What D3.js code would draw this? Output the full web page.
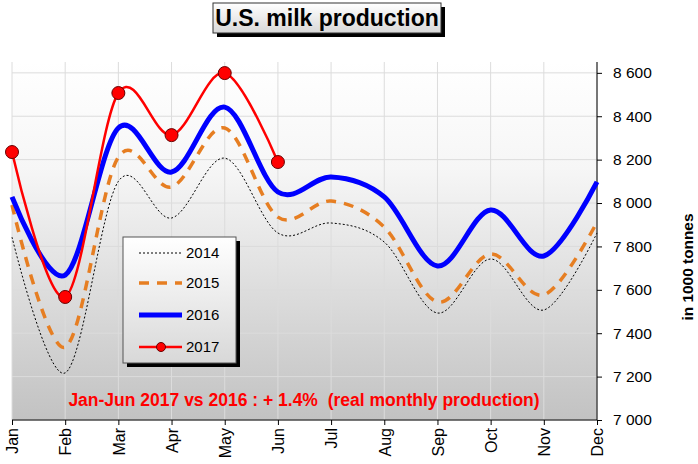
<!DOCTYPE html>
<html><head><meta charset="utf-8">
<script src="https://cdn.jsdelivr.net/npm/d3@7"></script>
<style>body{margin:0;background:#fff;font-family:Arial,"Liberation Sans",sans-serif}</style>
</head><body><svg id="c" width="698" height="464"></svg>
<script>
const months = ["Jan","Feb","Mar","Apr","May","Jun","Jul","Aug","Sep","Oct","Nov","Dec"];
const v2014 = [7843,7217,8100,7931,8207,7862,7908,7820,7493,7742,7507,7862];
const v2015 = [7991,7336,8212,8074,8346,7935,8009,7889,7544,7765,7576,7912];
const v2016 = [8028,7668,8346,8143,8442,8051,8120,8028,7710,7968,7756,8097];
const v2017 = [8235,7567,8507,8313,8599,8189];
const yTicks = [7000,7200,7400,7600,7800,8000,8200,8400,8600];
const seriesNames = ["2014","2015","2016","2017"];

const FONT = "Arial, 'Liberation Sans', sans-serif";
const svg = d3.select("#c").attr("font-family", FONT);
const L = 12, R = 597, T = 62, B = 420;
const x = d3.scalePoint().domain(months).range([L, R]);
const y = d3.scaleLinear().domain([7000, 8650]).range([B, T]);
const defs = svg.append("defs");
const bg = defs.append("linearGradient").attr("id","bg").attr("x1",0).attr("y1",0).attr("x2",0).attr("y2",1);
bg.append("stop").attr("offset","0%").attr("stop-color","#ffffff");
bg.append("stop").attr("offset","30%").attr("stop-color","#f6f6f6");
bg.append("stop").attr("offset","100%").attr("stop-color","#c2c2c2");
const tg = defs.append("linearGradient").attr("id","tg").attr("x1",0).attr("y1",0).attr("x2",0).attr("y2",1);
tg.append("stop").attr("offset","0%").attr("stop-color","#ffffff");
tg.append("stop").attr("offset","100%").attr("stop-color","#d8d8d8");

svg.append("rect").attr("x",L).attr("y",T).attr("width",R-L).attr("height",B-T).attr("fill","url(#bg)");
// grid
svg.append("g").selectAll("line").data(yTicks).join("line")
  .attr("x1",L).attr("x2",R).attr("y1",d=>y(d)).attr("y2",d=>y(d))
  .attr("stroke","#dcdcdc").attr("stroke-width",1);
svg.append("g").selectAll("line").data(months).join("line")
  .attr("x1",d=>x(d)).attr("x2",d=>x(d)).attr("y1",T).attr("y2",B)
  .attr("stroke","#dcdcdc").attr("stroke-width",1);

// axes
const ya = svg.append("g").attr("transform",`translate(${R},0)`)
  .call(d3.axisRight(y).tickValues(yTicks).tickSize(5).tickPadding(11)
    .tickFormat(d=>d3.format(",")(d).replace(",", " ")));
ya.select(".domain").attr("d",`M0,${T}V${B}`).attr("stroke","#000");
ya.selectAll("text").attr("font-size",15.5).attr("font-family",FONT).attr("fill","#000");
const xa = svg.append("g").attr("transform",`translate(0,${B})`)
  .call(d3.axisBottom(x).tickSize(5).tickPadding(8));
xa.select(".domain").attr("d",`M${L},0H${R}`).attr("stroke","#000");
xa.selectAll("text").attr("font-size",16).attr("font-family",FONT).attr("fill","#000")
  .attr("transform","rotate(-90)").attr("text-anchor","end").attr("dy","0.36em").attr("x",-8).attr("y",0);

svg.append("text").attr("transform","translate(693,267) rotate(-90)")
  .attr("text-anchor","middle").attr("font-size",15.4).attr("font-weight","bold").text("in 1000 tonnes");

// lines
const line = d3.line().x((d,i)=>x(months[i])).y(d=>y(d)).curve(d3.curveCardinal.tension(0));
svg.append("path").attr("d",line(v2014)).attr("fill","none").attr("stroke","#000").attr("stroke-width",1).attr("stroke-dasharray","2,2");
svg.append("path").attr("d",line(v2015)).attr("fill","none").attr("stroke","#e67e22").attr("stroke-width",3.5).attr("stroke-dasharray","10,8");
svg.append("path").attr("d",line(v2016)).attr("fill","none").attr("stroke","#0000ff").attr("stroke-width",5);
svg.append("path").attr("d",line(v2017)).attr("fill","none").attr("stroke","#ff0000").attr("stroke-width",2.5);
svg.append("g").selectAll("circle").data(v2017).join("circle")
  .attr("cx",(d,i)=>x(months[i])).attr("cy",d=>y(d)).attr("r",6.5)
  .attr("fill","#ff0000").attr("stroke","#600").attr("stroke-width",1);

// annotation
svg.append("text").attr("x",304).attr("y",406).attr("text-anchor","middle")
  .attr("font-size",17.5).attr("font-weight","bold").attr("fill","#ff0000")
  .style("white-space","pre").text("Jan-Jun 2017 vs 2016 : + 1.4%  (real monthly production)");

// legend
const lg = svg.append("g");
lg.append("rect").attr("x",127).attr("y",241).attr("width",113).attr("height",126).attr("fill","#000");
lg.append("rect").attr("x",123).attr("y",237).attr("width",113).attr("height",126).attr("fill","url(#tg)").attr("stroke","#555").attr("stroke-width",1);
const ly = [253,283,315,347];
const styles = [
  {c:"#000",w:1,da:"2,2"},{c:"#e67e22",w:3.5,da:"10,8"},{c:"#0000ff",w:5,da:null},{c:"#ff0000",w:2.5,da:null}];
seriesNames.forEach((n,i)=>{
  const l = lg.append("line").attr("x1",139).attr("x2",182).attr("y1",ly[i]).attr("y2",ly[i])
    .attr("stroke",styles[i].c).attr("stroke-width",styles[i].w);
  if (styles[i].da) l.attr("stroke-dasharray",styles[i].da);
  if (i===3) lg.append("circle").attr("cx",161).attr("cy",ly[i]).attr("r",4.5).attr("fill","#ff0000").attr("stroke","#600");
  lg.append("text").attr("x",186).attr("y",ly[i]).attr("dy","0.36em").attr("font-size",15).text(n);
});

// title
svg.append("rect").attr("x",217).attr("y",7).attr("width",228).attr("height",30).attr("fill","#000");
svg.append("rect").attr("x",213).attr("y",3).attr("width",228).attr("height",30).attr("fill","url(#tg)").attr("stroke","#333");
svg.append("text").attr("x",327).attr("y",26).attr("text-anchor","middle").attr("font-size",23).attr("font-weight","bold").text("U.S. milk production");
</script></body></html>
